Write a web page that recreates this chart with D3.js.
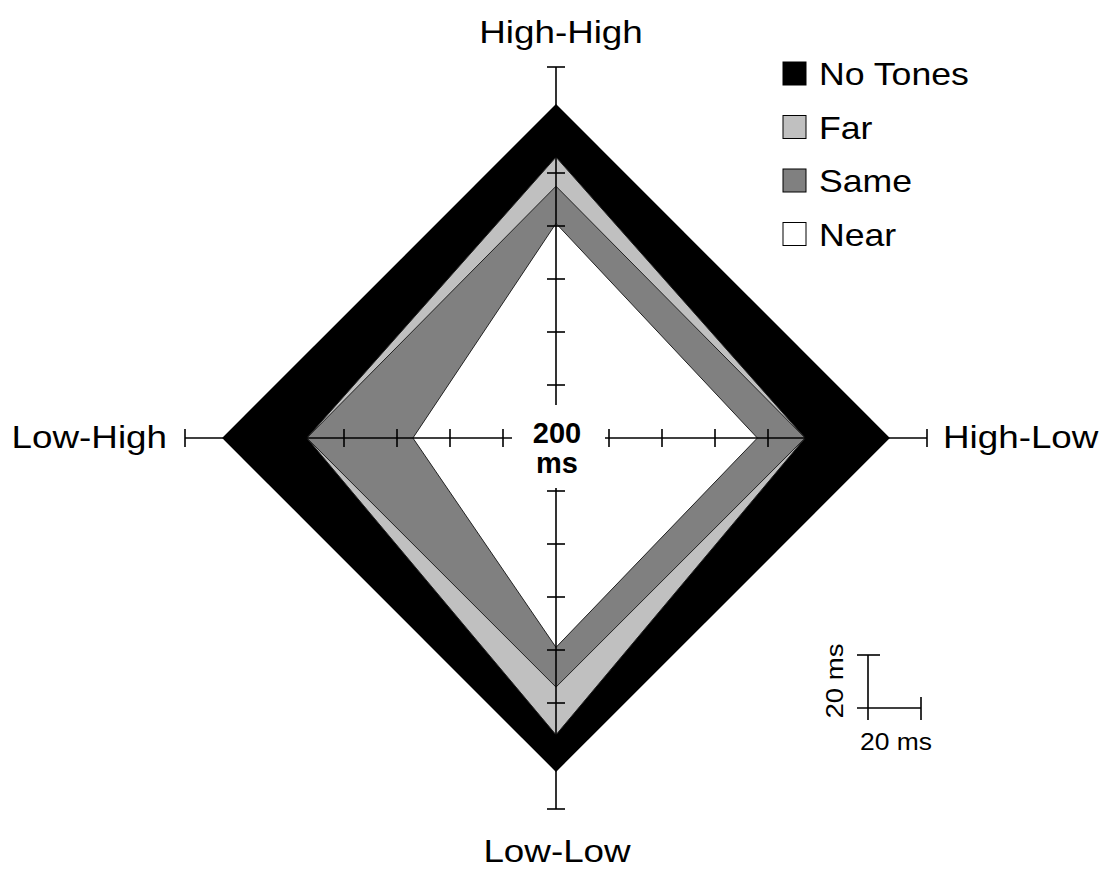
<!DOCTYPE html>
<html>
<head>
<meta charset="utf-8">
<script src="https://cdn.jsdelivr.net/npm/d3@7"></script>
<style>
  body { margin: 0; background: #fff; }
  text { font-family: "Liberation Sans", Arial, sans-serif; fill: #000; }
</style>
</head>
<body>
<div id="vis"></div>
<script>
// axes, clockwise from the top
var axes = ["High-High", "High-Low", "Low-Low", "Low-High"];
var seriesNames = ["No Tones", "Far", "Same", "Near"];
var seriesColors = ["#000000", "#c0c0c0", "#808080", "#ffffff"];

// response times in ms, one value per axis
var noTones = [326, 326, 326, 326];
var far = [306, 294, 312, 294];
var same = [295, 294, 294, 294];
var near = [281, 276, 279, 254];

var tickValues = [220, 240, 260, 280, 300, 320, 340];
var centerValue = 200;

function draw() {
  var width = 1113, height = 871;
  var cx = 556, cy = 438;
  var stretch = 1.15;

  var svg = d3.select("#vis").append("svg")
    .attr("width", width)
    .attr("height", height);

  var r = d3.scaleLinear().domain([centerValue, 340]).range([0, 371]);
  var angle = d3.scalePoint().domain(axes).range([0, 2 * Math.PI * 3 / 4]);

  var g = svg.append("g").attr("transform", "translate(" + cx + "," + cy + ")");

  var radial = d3.lineRadial()
    .angle(function(d, i) { return angle(axes[i]); })
    .radius(function(d) { return r(d); })
    .curve(d3.curveLinearClosed);

  var allSeries = [noTones, far, same, near];
  g.selectAll("path.series")
    .data(allSeries)
    .enter().append("path")
    .attr("class", "series")
    .attr("d", radial)
    .attr("fill", function(d, i) { return seriesColors[i]; })
    .attr("stroke", function(d, i) { return i === 0 ? "none" : "#222"; })
    .attr("stroke-width", 1);

  // axes with a gap round the centre label
  var innerGap = {"High-High": 33, "High-Low": 49, "Low-Low": 50, "Low-High": 44};
  axes.forEach(function(a) {
    var th = angle(a);
    var sx = Math.round(Math.sin(th)), sy = -Math.round(Math.cos(th));
    var px = sx === 0 ? 1 : 0, py = sx === 0 ? 0 : 1;
    var ax = g.append("g");
    ax.append("line")
      .attr("x1", sx * innerGap[a]).attr("y1", sy * innerGap[a])
      .attr("x2", sx * r(340)).attr("y2", sy * r(340))
      .attr("stroke", "#000").attr("stroke-width", 1.6);
    ax.selectAll("line.tick")
      .data(tickValues)
      .enter().append("line")
      .attr("class", "tick")
      .attr("x1", function(v) { return sx * r(v) - px * 9; })
      .attr("y1", function(v) { return sy * r(v) - py * 9; })
      .attr("x2", function(v) { return sx * r(v) + px * 9; })
      .attr("y2", function(v) { return sy * r(v) + py * 9; })
      .attr("stroke", "#000").attr("stroke-width", 1.6);
  });

  // centre label
  g.append("text").attr("x", 1).attr("y", 5)
    .attr("text-anchor", "middle").attr("font-weight", "bold")
    .attr("font-size", 29).text(centerValue);
  g.append("text").attr("x", 1).attr("y", 35)
    .attr("text-anchor", "middle").attr("font-weight", "bold")
    .attr("font-size", 29).text("ms");

  // axis labels
  var labelPos = [
    {x: 561, y: 43, anchor: "middle"},
    {x: 943, y: 448, anchor: "start"},
    {x: 557, y: 862, anchor: "middle"},
    {x: 167, y: 448, anchor: "end"}
  ];
  axes.forEach(function(a, i) {
    svg.append("text")
      .attr("transform", "translate(" + labelPos[i].x + "," + labelPos[i].y + ") scale(" + stretch + ",1)")
      .attr("text-anchor", labelPos[i].anchor)
      .attr("font-size", 32)
      .text(a);
  });

  // legend
  var legend = svg.append("g").attr("transform", "translate(783,62)");
  var rows = legend.selectAll("g")
    .data(seriesNames)
    .enter().append("g")
    .attr("transform", function(d, i) { return "translate(0," + (i * 53.5) + ")"; });
  rows.append("rect")
    .attr("width", 23).attr("height", 23)
    .attr("fill", function(d, i) { return seriesColors[i]; })
    .attr("stroke", "#000").attr("stroke-width", 1);
  rows.append("text")
    .attr("transform", "translate(36,23) scale(" + stretch + ",1)")
    .attr("font-size", 31)
    .text(function(d) { return d; });

  // 20 ms scale bar
  var len = r(centerValue + 20) - r(centerValue);
  var bx = 868, by = 708;
  var bar = svg.append("g").attr("stroke", "#000").attr("stroke-width", 1.6);
  bar.append("line").attr("x1", bx).attr("y1", by - len).attr("x2", bx).attr("y2", by + 12);
  bar.append("line").attr("x1", bx - 11).attr("y1", by).attr("x2", bx + len).attr("y2", by);
  bar.append("line").attr("x1", bx - 11).attr("y1", by - len).attr("x2", bx + 12).attr("y2", by - len);
  bar.append("line").attr("x1", bx + len).attr("y1", by - 11).attr("x2", bx + len).attr("y2", by + 12);
  svg.append("text")
    .attr("transform", "translate(860,750) scale(" + stretch + ",1)")
    .attr("font-size", 23).text("20 ms");
  svg.append("text")
    .attr("transform", "translate(843,681) rotate(-90) scale(1.15,1)")
    .attr("text-anchor", "middle")
    .attr("font-size", 24).text("20 ms");
}

draw();
</script>
</body>
</html>
